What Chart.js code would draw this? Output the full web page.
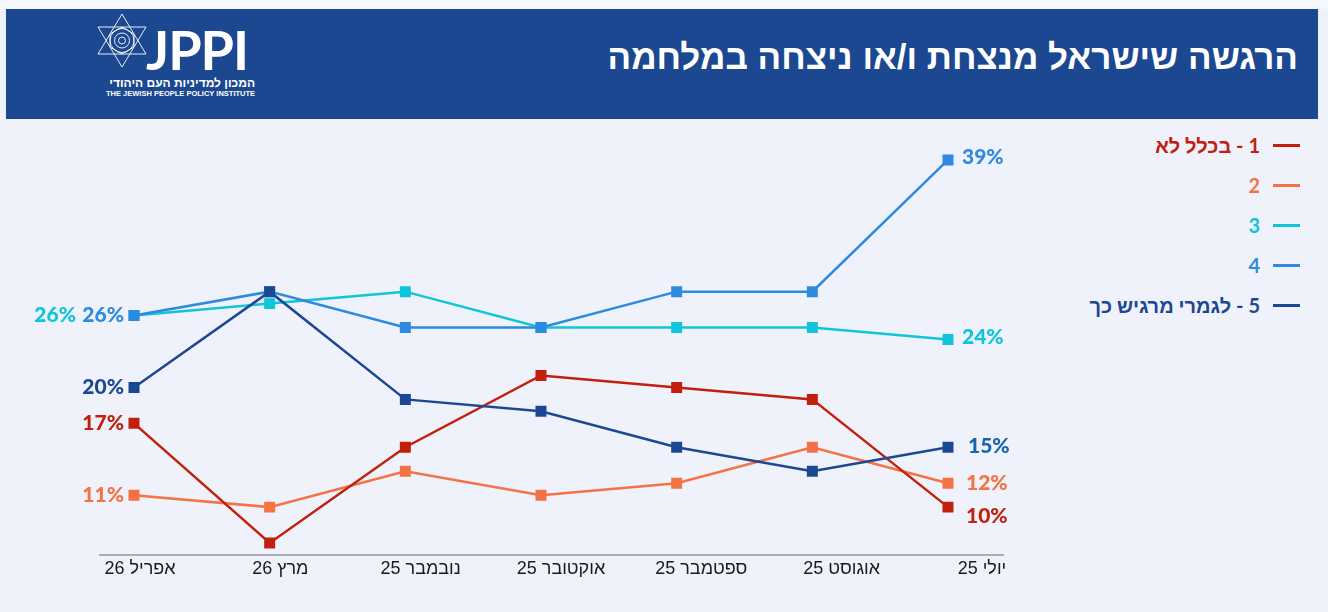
<!DOCTYPE html>
<html lang="he">
<head>
<meta charset="utf-8">
<script src="https://cdn.jsdelivr.net/npm/chart.js@4.4.1/dist/chart.umd.min.js"></script>
<style>
  body { margin: 0; width: 1328px; height: 612px; background: #eff2fb; font-family: "Liberation Sans", Arial, sans-serif; position: relative; overflow: hidden; }
  .topstrip { position: absolute; left: 0; top: 0; width: 1328px; height: 9px; background: #f5f7fc; }
  .banner { position: absolute; left: 6px; top: 9px; width: 1312px; height: 110px; background: #1c4891; }
  .title { position: absolute; right: 20px; top: 28px; color: #fff; font-weight: bold; font-size: 35px; direction: rtl; white-space: nowrap; }
  .logo { position: absolute; left: 88px; top: 4px; width: 170px; height: 100px; color: #fff; }
  .logo svg { position: absolute; left: 2px; top: 0px; }
  .jppi { position: absolute; left: 52px; top: 4px; font-family: Lato, sans-serif; font-weight: bold; font-size: 54px; letter-spacing: -1px; }
  .heb { position: absolute; right: 9px; top: 63px; font-size: 12px; font-weight: bold; direction: rtl; white-space: nowrap; }
  .eng { position: absolute; left: 12px; top: 76px; font-size: 7.5px; font-weight: bold; white-space: nowrap; font-family: "Liberation Sans", sans-serif; }
  #wrap { position: absolute; left: 0; top: 120px; width: 1060px; height: 492px; }
  #legend { position: absolute; right: 28px; top: 125px; direction: rtl; }
  #legend .item { display: flex; align-items: center; height: 40px; font-family: Lato, "Liberation Sans", sans-serif; font-weight: bold; font-size: 20px; }
  #legend .swatch { width: 27px; height: 3px; margin-left: 13px; }
</style>
</head>
<body>
<div class="topstrip"></div>
<div class="banner">
  <div class="logo">
    <svg width="52" height="56" viewBox="0 0 52 56" fill="none" stroke="#fff" stroke-width="0.9">
      <polygon points="26,1 50,41 2,41"/>
      <polygon points="26,54 50,14 2,14"/>
      <circle cx="26" cy="27.5" r="12"/>
      <circle cx="26" cy="27.5" r="7.5"/>
      <circle cx="26" cy="27.5" r="3.5"/>
      <polygon points="26,14 38,21 38,34 26,41 14,34 14,21"/>
    </svg>
    <div class="jppi">JPPI</div>
    <div class="heb">המכון למדיניות העם היהודי</div>
    <div class="eng">THE JEWISH PEOPLE POLICY INSTITUTE</div>
  </div>
  <div class="title">הרגשה שישראל מנצחת ו/או ניצחה במלחמה</div>
</div>
<div id="wrap"><canvas id="grafico" dir="rtl"></canvas></div>
<div id="legend"></div>
<script>
  // months as they appear left to right
  const months = ["אפריל 26", "מרץ 26", "נובמבר 25", "אוקטובר 25", "ספטמבר 25", "אוגוסט 25", "יולי 25"];
  const seriesNames = ["1 - בכלל לא", "2", "3", "4", "5 - לגמרי מרגיש כך"];
  const notAtAll = [17, 7, 15, 21, 20, 19, 10];
  const level2 = [11, 10, 13, 11, 12, 15, 12];
  const level3 = [26, 27, 28, 25, 25, 25, 24];
  const level4 = [26, 28, 25, 25, 28, 28, 39];
  const fully = [20, 28, 19, 18, 15, 13, 15];

  const colors = ["#c2200c", "#f47244", "#10c4da", "#2d8ae0", "#1c4792"];
  const lastLabelColors = ["#c0230d", "#f47244", "#10c4da", "#2d8ae0", "#1763ad"];
  const allSeries = [notAtAll, level2, level3, level4, fully];

  const endLabels = {
    id: "endLabels",
    afterDatasetsDraw(chart, args, opts) {
      const ctx = chart.ctx;
      ctx.save();
      ctx.font = "900 21px Lato, sans-serif";
      ctx.textBaseline = "middle";
      chart.data.datasets.forEach((ds, i) => {
        const pts = chart.getDatasetMeta(i).data;
        const first = pts[0];
        const last = pts[pts.length - 1];
        ctx.fillStyle = ds.borderColor;
        ctx.textAlign = "right";
        ctx.fillText(ds.data[0].y + "%", first.x - 10 - opts.leftShift[i], first.y);
        ctx.fillStyle = lastLabelColors[i];
        ctx.textAlign = "left";
        const off = opts.rightOffset[i];
        ctx.fillText(ds.data[ds.data.length - 1].y + "%", last.x + 14 + off[0], last.y + off[1]);
      });
      ctx.restore();
    }
  };

  const datasets = allSeries.map((valores, i) => ({
    label: seriesNames[i],
    data: valores.map((v, idx) => ({ x: idx, y: v })),
    borderColor: colors[i],
    backgroundColor: colors[i],
    borderWidth: 2.5,
    pointStyle: "rect",
    pointRadius: 6,
    pointHoverRadius: 6,
    tension: 0,
    order: [3, 4, 2, 1, 0][i]
  }));

  new Chart(document.getElementById("grafico").getContext("2d"), {
    type: "line",
    data: { datasets: datasets },
    plugins: [endLabels],
    options: {
      responsive: true,
      maintainAspectRatio: false,
      animation: false,
      layout: { padding: { left: 100, right: 57, top: 28, bottom: 17 } },
      plugins: {
        legend: { display: false },
        tooltip: { enabled: false },
        endLabels: {
          leftShift: [0, 0, 48, 0, 0],
          rightOffset: [[4, 9], [4, 0], [0, -2], [0, -3], [6, -1]]
        }
      },
      scales: {
        x: { type: "linear", display: false, min: -0.2506, max: 6.4054 },
        x2: {
          type: "linear",
          position: "bottom",
          min: -0.285,
          max: 6.15,
          afterFit: s => { s.height = 40; },
          grid: { display: false, drawTicks: false },
          border: { display: true, color: "#abadb5", width: 2 },
          ticks: {
            stepSize: 1,
            includeBounds: false,
            autoSkip: false,
            maxRotation: 0,
            padding: 3,
            color: "#1a1a1a",
            font: { family: "Liberation Sans", size: 18 },
            callback: v => (Number.isInteger(v) ? months[v] || "" : "")
          }
        },
        y: { display: false, min: 6, max: 40 }
      }
    }
  });

  // legenda em HTML
  const legend = document.getElementById("legend");
  seriesNames.forEach((nome, i) => {
    const item = document.createElement("div");
    item.className = "item";
    item.style.color = colors[i];
    item.innerHTML = `<span class="swatch" style="background:${colors[i]}"></span><span>${nome}</span>`;
    legend.appendChild(item);
  });
</script>
</body>
</html>
